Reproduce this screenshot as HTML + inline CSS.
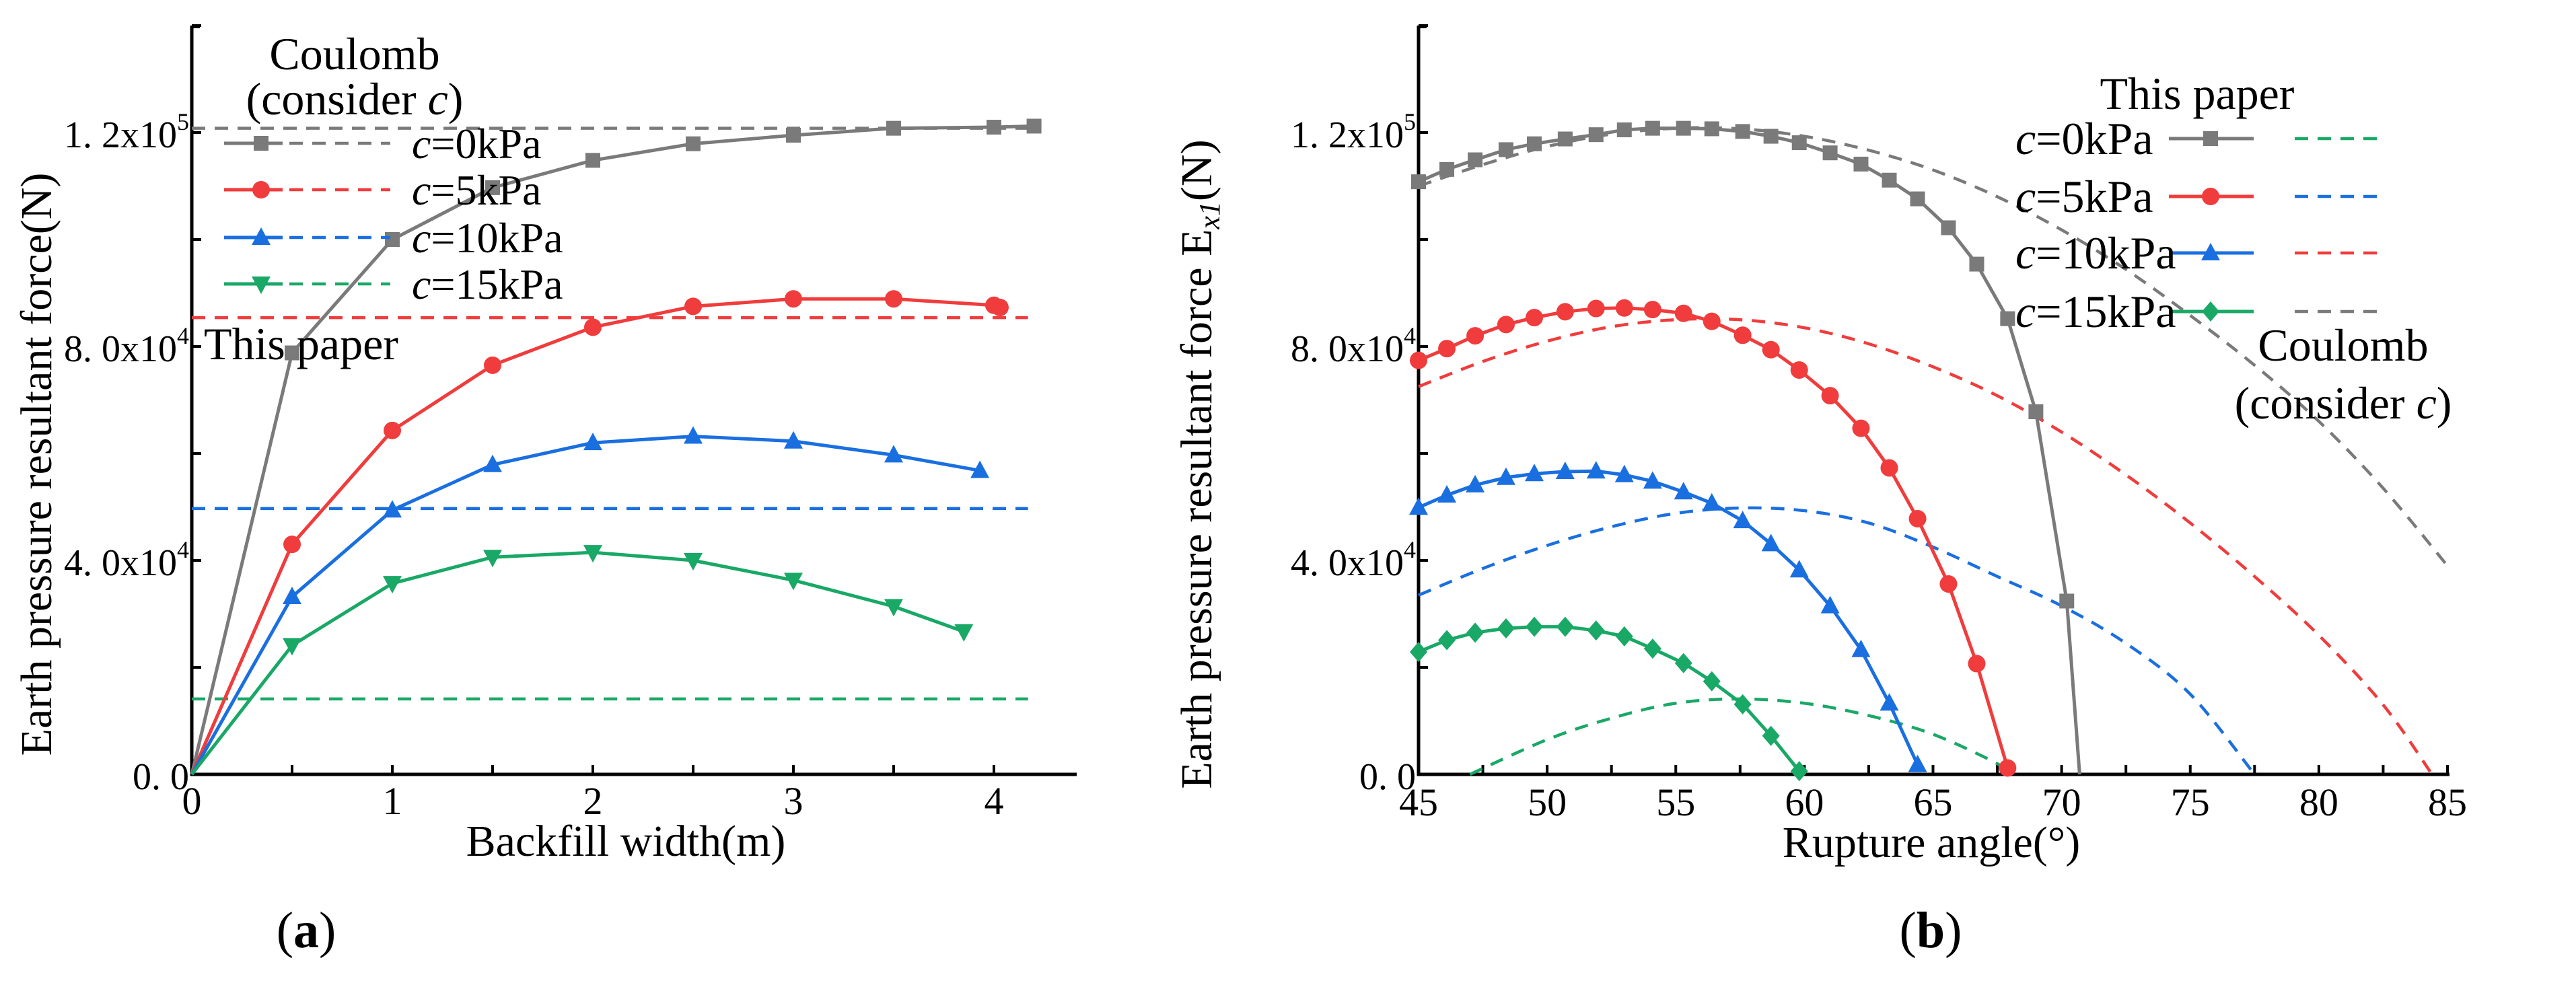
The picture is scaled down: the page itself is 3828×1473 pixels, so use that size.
<!DOCTYPE html>
<html><head><meta charset="utf-8"><style>
html,body{margin:0;padding:0;background:#fff;}
svg{display:block;font-family:"Liberation Serif",serif;}
</style></head><body>
<svg id="s" width="3828" height="1473" viewBox="0 0 3828 1473" xmlns="http://www.w3.org/2000/svg"></svg>
<script>
// ---- Chart (a) data ----
const aX = [0,0.5,1,1.5,2,2.5,3,3.5,4,4.2];
const aGray = [0,78800,100000,109700,114800,117900,119500,120800,121000,121200];
const aRedX = [0,0.5,1,1.5,2,2.5,3,3.5,4,4.03];
const aRed = [0,43000,64300,76500,83600,87500,88900,88900,87700,87300];
const aBlueX = [0,0.5,1,1.5,2,2.5,3,3.5,3.93];
const aBlue = [0,33200,49400,57900,62000,63200,62300,59700,56800];
const aGreenX = [0,0.5,1,1.5,2,2.5,3,3.5,3.85];
const aGreen = [0,24100,35700,40600,41500,40000,36300,31400,26700];
const aCoulomb = [120800,85400,49700,14100];
const aXTicks = [0,1,2,3,4];
// ---- Chart (b) data ----
const bX = [45,46.1,47.2,48.4,49.5,50.7,51.9,53.0,54.1,55.3,56.4,57.6,58.7,59.8,61.0,62.2,63.3,64.4,65.6,66.7,67.9,69.0,70.2];
const bGray = [110800,113100,114900,116800,117900,118800,119600,120500,120800,120800,120700,120200,119300,118100,116200,114100,111100,107600,102200,95400,85200,67800,32400];
const bRed = [77400,79600,82000,84100,85400,86500,87100,87200,86900,86200,84700,82100,79400,75600,70800,64700,57300,47800,35600,20700,1200];
const bBlue = [49900,52200,54100,55500,56200,56600,56700,56000,54800,52800,50700,47400,43100,38200,31500,23300,13300,1800];
const bGreen = [22900,25100,26500,27300,27600,27600,26900,25800,23500,20800,17400,13100,7200,600];
const bDX = [45,47.5,50,52.5,55,57.5,60,62.5,65,67.5,70,72.5,75,77.5,80,82.5,85];
const bGrayD = [110000,114000,117400,119700,120800,120700,119300,116700,113000,108000,101800,94400,85800,76500,66000,53500,39000];
const bRedDX = [45,47.5,50,52.5,55,57.5,60,62.5,65,67.5,70,72.5,75,77.5,80,82.5,84.4];
const bRedD = [72500,77200,81000,83700,85000,85000,83500,80500,76200,70800,64000,56000,47000,37000,26000,13000,0];
const bBlueDX = [45,47.5,50,52.5,55,57.5,60,62.5,65,67.5,70,72.5,75,77.5];
const bBlueD = [33500,38500,42800,46300,48800,49800,49300,47000,42500,37000,31500,24500,15000,0];
const bGreenDX = [47,50,52.5,55,57.5,60,62.5,65,67.5,68];
const bGreenD = [0,6500,10500,13300,14100,13300,11000,7500,2000,0];
const bXTicks = [45,50,55,60,65,70,75,80,85];
const yTickVals = [0,40000,80000,120000];
const yTickMant = ["0. 0","4. 0x10","8. 0x10","1. 2x10"];
const yTickExp = ["","4","4","5"];

const C = {gray:"#7a7a7a", red:"#f03c3c", blue:"#1a6fe0", green:"#19a866"};
const NS="http://www.w3.org/2000/svg";
const svg=document.getElementById('s');
function el(tag,attrs,parent){const e=document.createElementNS(NS,tag);for(const k in attrs)e.setAttribute(k,attrs[k]);(parent||svg).appendChild(e);return e;}
function txt(s,attrs,parent){const e=el('text',attrs,parent);e.textContent=s;return e;}

const Y0=1151, YPER=318/40000;
function ya(v){return Y0-v*YPER;}
const xa=v=>285+v*298;
const xb=v=>2108+(v-45)*38.225;

function marker(shape,x,y,color,g){
  const r=11;
  let m;
  if(shape==='sq') m=el('rect',{x:x-r,y:y-r,width:2*r,height:2*r,fill:color},g);
  else if(shape==='ci') m=el('circle',{cx:x,cy:y,r:r+2,fill:color},g);
  else if(shape==='tu') m=el('polygon',{points:`${x},${y-r-4} ${x+r+3},${y+r} ${x-r-3},${y+r}`,fill:color},g);
  else if(shape==='td') m=el('polygon',{points:`${x},${y+r+4} ${x+r+3},${y-r} ${x-r-3},${y-r}`,fill:color},g);
  else m=el('polygon',{points:`${x},${y-r-4} ${x+r+2},${y} ${x},${y+r+4} ${x-r-2},${y}`,fill:color},g);
  
  
}
function smoothPath(p){
  let d='M'+p[0][0]+','+p[0][1];
  for(let i=0;i<p.length-1;i++){
    const p0=p[i-1]||p[i],p1=p[i],p2=p[i+1],p3=p[i+2]||p2;
    const c1=[p1[0]+(p2[0]-p0[0])/6,p1[1]+(p2[1]-p0[1])/6];
    const c2=[p2[0]-(p3[0]-p1[0])/6,p2[1]-(p3[1]-p1[1])/6];
    d+=` C${c1[0]},${c1[1]} ${c2[0]},${c2[1]} ${p2[0]},${p2[1]}`;
  }
  return d;
}
function series(xs,ys,fx,color,shape,name,dashed,endPt,smooth){
  const g=el('g',{});
  
  
  let pts=xs.slice(0,ys.length).map((x,i)=>[fx(x),ya(ys[i])]);
  if(endPt) pts.push([fx(endPt[0]),ya(endPt[1])]);
  const st={fill:'none',stroke:color,'stroke-width':dashed?4.5:5,'stroke-dasharray':dashed?'20 14':'none','stroke-linejoin':'round'};
  if(smooth){st.d=smoothPath(pts);el('path',st,g);}
  else {st.points=pts.map(p=>p.join(',')).join(' ');el('polyline',st,g);}
  if(shape) ys.forEach((v,i)=>{ if(!(i===0 && fx===xa)) marker(shape,fx(xs[i]),ya(v),color,g); });
}
function yTicks(ax,name){
  const g=el('g',{});
  for(let v=0;v<=140000;v+=20000) el('line',{x1:ax,y1:ya(v),x2:ax+14,y2:ya(v),stroke:'#000','stroke-width':4},g);
  yTickVals.forEach((v,i)=>{
    const t=txt('',{x:ax-4,y:ya(v)+22,'font-size':56,'text-anchor':'end',fill:'#000'},g);
    const a=el('tspan',{},t);a.textContent=yTickMant[i];
    if(yTickExp[i]){const b=el('tspan',{'font-size':36,dy:-26},t);b.textContent=yTickExp[i];}
  });
}
// Axes (a)
const axA=el('g',{});
el('line',{x1:285,y1:38,x2:285,y2:1153,stroke:'#000','stroke-width':5},axA);
el('line',{x1:283,y1:1151,x2:1600,y2:1151,stroke:'#000','stroke-width':5},axA);
el('line',{x1:285,y1:40,x2:297,y2:40,stroke:'#000','stroke-width':4},axA);
for(let v=0;v<=4.4;v+=0.5) el('line',{x1:xa(v),y1:1151,x2:xa(v),y2:1137,stroke:'#000','stroke-width':4},axA);
aXTicks.forEach(v=>txt(String(v),{x:xa(v),y:1210,'font-size':58,'text-anchor':'middle'},axA));
yTicks(285,'y-ticks-a');
[C.gray,C.red,C.blue,C.green].forEach((c,i)=>{
  const l=el('line',{x1:285,y1:ya(aCoulomb[i]),x2:xa(4.17),y2:ya(aCoulomb[i]),stroke:c,'stroke-width':4.5,'stroke-dasharray':'20 14'});
  
});
series(aX,aGray,xa,C.gray,'sq','series-a-c0');
series(aRedX,aRed,xa,C.red,'ci','series-a-c5');
series(aBlueX,aBlue,xa,C.blue,'tu','series-a-c10');
series(aGreenX,aGreen,xa,C.green,'td','series-a-c15');
// Legend (a)
const labels=['0kPa','5kPa','10kPa','15kPa'], cols=[C.gray,C.red,C.blue,C.green], shA=['sq','ci','tu','td'];
const lgA=el('g',{});
[213,282,353,422].forEach((y,i)=>{
  el('line',{x1:333,y1:y,x2:420,y2:y,stroke:cols[i],'stroke-width':5},lgA);
  el('line',{x1:430,y1:y,x2:580,y2:y,stroke:cols[i],'stroke-width':4.5,'stroke-dasharray':'20 14'},lgA);
  marker(shA[i],388,y,cols[i],lgA);
  const t=txt('',{x:612,y:y+22,'font-size':64},lgA);
  const a=el('tspan',{'font-style':'italic'},t);a.textContent='c';
  const b=el('tspan',{},t);b.textContent='='+labels[i];
});
txt('Coulomb',{x:527,y:103,'font-size':68,'text-anchor':'middle'});
const ca=txt('',{x:527,y:170,'font-size':68,'text-anchor':'middle'});
ca.innerHTML='(consider <tspan font-style="italic">c</tspan>)';
txt('This paper',{x:303,y:534,'font-size':68});
txt('Backfill width(m)',{x:930,y:1272,'font-size':66,'text-anchor':'middle'});
txt('Earth pressure resultant force(N)',{x:0,y:0,'font-size':66,'text-anchor':'middle',transform:'translate(76,690) rotate(-90)'});
const la=txt('',{x:455,y:1408,'font-size':76,'text-anchor':'middle'});
la.innerHTML='(<tspan font-weight="bold">a</tspan>)';

// Axes (b)
const axB=el('g',{});
el('line',{x1:2108,y1:38,x2:2108,y2:1153,stroke:'#000','stroke-width':5},axB);
el('line',{x1:2106,y1:1151,x2:3640,y2:1151,stroke:'#000','stroke-width':5},axB);
el('line',{x1:2108,y1:40,x2:2120,y2:40,stroke:'#000','stroke-width':4},axB);
for(let v=45;v<=85;v+=2.5) el('line',{x1:xb(v),y1:1151,x2:xb(v),y2:1137,stroke:'#000','stroke-width':4},axB);
bXTicks.forEach(v=>txt(String(v),{x:xb(v),y:1212,'font-size':58,'text-anchor':'middle'},axB));
yTicks(2108,'y-ticks-b');
series(bDX,bGrayD,xb,C.gray,null,'coulomb-b-c0',true,null,true);
series(bRedDX,bRedD,xb,C.red,null,'coulomb-b-c5',true,null,true);
series(bBlueDX,bBlueD,xb,C.blue,null,'coulomb-b-c10',true,null,true);
series(bGreenDX,bGreenD,xb,C.green,null,'coulomb-b-c15',true,null,true);
series(bX,bGray,xb,C.gray,'sq','series-b-c0',false,[70.7,0]);
series(bX,bRed,xb,C.red,'ci','series-b-c5',false,[67.95,0]);
series(bX,bBlue,xb,C.blue,'tu','series-b-c10',false);
series(bX,bGreen,xb,C.green,'di','series-b-c15',false);
// Legend (b)
const lgB=el('g',{});
const dcols=[C.green,C.blue,C.red,C.gray], shB=['sq','ci','tu','di'];
txt('This paper',{x:3265,y:162,'font-size':68,'text-anchor':'middle'},lgB);
[206,292,376,463].forEach((y,i)=>{
  el('line',{x1:3223,y1:y,x2:3349,y2:y,stroke:cols[i],'stroke-width':5},lgB);
  marker(shB[i],3285,y,cols[i],lgB);
  el('line',{x1:3410,y1:y,x2:3543,y2:y,stroke:dcols[i],'stroke-width':4.5,'stroke-dasharray':'20 14'},lgB);
  const t=txt('',{x:2995,y:y+23,'font-size':68},lgB);
  const a=el('tspan',{'font-style':'italic'},t);a.textContent='c';
  const b=el('tspan',{},t);b.textContent='='+labels[i];
});
txt('Coulomb',{x:3482,y:536,'font-size':68,'text-anchor':'middle'});
const cb=txt('',{x:3482,y:622,'font-size':68,'text-anchor':'middle'});
cb.innerHTML='(consider <tspan font-style="italic">c</tspan>)';
txt('Rupture angle(°)',{x:2870,y:1274,'font-size':66,'text-anchor':'middle'});
const yb=txt('',{x:0,y:0,'font-size':66,'text-anchor':'middle',transform:'translate(1800,690) rotate(-90)'});
yb.innerHTML='Earth pressure resultant force E<tspan font-size="44" dy="12" font-style="italic">x1</tspan><tspan dy="-12">(N)</tspan>';
const lb=txt('',{x:2869,y:1408,'font-size':76,'text-anchor':'middle'});
lb.innerHTML='(<tspan font-weight="bold">b</tspan>)';
</script>
</body></html>
